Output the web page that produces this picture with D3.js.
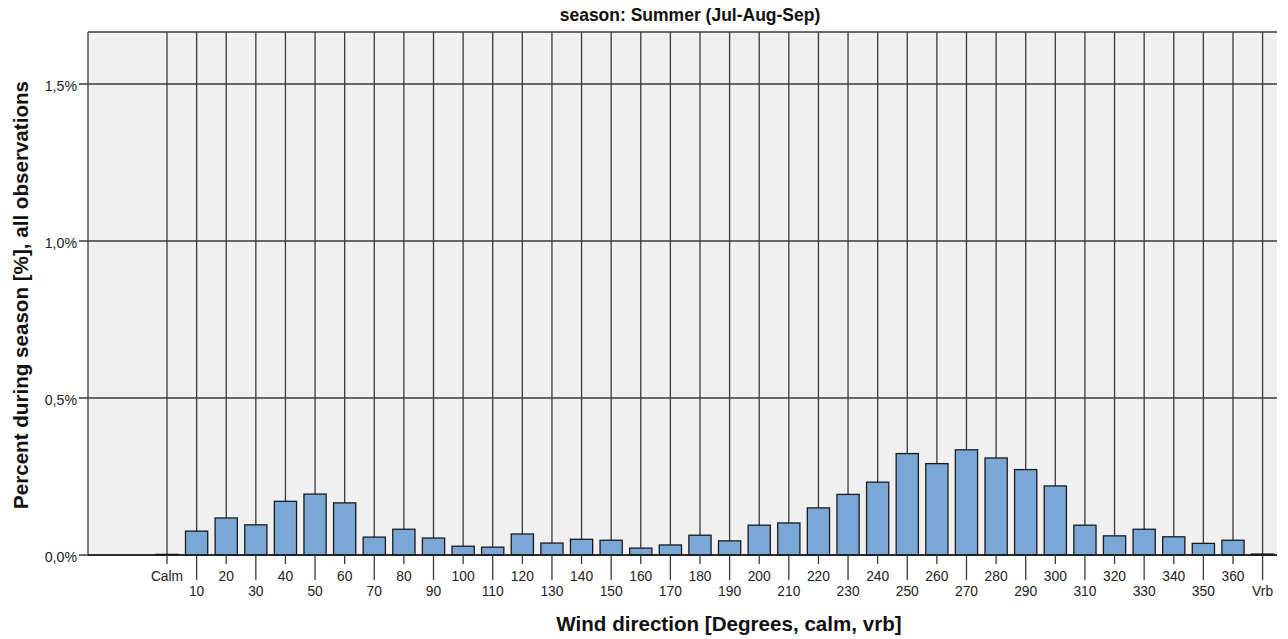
<!DOCTYPE html>
<html><head><meta charset="utf-8">
<script src="https://cdn.jsdelivr.net/npm/d3@7"></script>
<style>body{margin:0;background:#fff;} text{font-family:"Liberation Sans",Arial,sans-serif;}</style>
</head><body>
<svg id="c" width="1288" height="639"></svg>
<script>
const categories = ["Calm","10","20","30","40","50","60","70","80","90","100","110","120","130","140","150","160","170","180","190","200","210","220","230","240","250","260","270","280","290","300","310","320","330","340","350","360","Vrb"];
const values = [0.002,0.076,0.118,0.096,0.171,0.194,0.166,0.057,0.082,0.054,0.028,0.025,0.067,0.038,0.050,0.047,0.022,0.032,0.063,0.045,0.095,0.102,0.150,0.193,0.232,0.323,0.291,0.335,0.309,0.272,0.220,0.095,0.061,0.082,0.058,0.037,0.047,0.003];
const yTicks = [0, 0.5, 1.0, 1.5];
const yTickLabels = ["0,0%","0,5%","1,0%","1,5%"];
const title = "season: Summer (Jul-Aug-Sep)";
const xTitle = "Wind direction [Degrees, calm, vrb]";
const yTitle = "Percent during season [%], all observations";

const svg = d3.select("#c");
const plotL = 88, plotR = 1277, plotT = 32, plotB = 555;
const x = d3.scaleBand().domain(categories).range([152.2, 1277.4]).paddingInner(0.25).paddingOuter(0.125);
const y = d3.scaleLinear().domain([0, 1.6656]).range([plotB, plotT]);
const grid = "#3a3a3a";

svg.append("rect").attr("x", plotL).attr("y", plotT).attr("width", plotR - plotL).attr("height", plotB - plotT).attr("fill", "#f0f0f0");

// horizontal grid
svg.append("g").selectAll("line").data(yTicks).join("line")
  .attr("x1", plotL - 9).attr("x2", plotR).attr("y1", d => y(d)).attr("y2", d => y(d))
  .attr("stroke", grid).attr("stroke-width", 1.3);
// vertical grid
svg.append("g").selectAll("line").data(categories).join("line")
  .attr("x1", d => x(d) + x.bandwidth()/2).attr("x2", d => x(d) + x.bandwidth()/2)
  .attr("y1", plotT).attr("y2", plotB)
  .attr("stroke", grid).attr("stroke-width", 1.3);
// borders
svg.append("line").attr("x1", plotL).attr("x2", plotR).attr("y1", plotT).attr("y2", plotT).attr("stroke", grid).attr("stroke-width", 1.3);
svg.append("line").attr("x1", plotL).attr("x2", plotL).attr("y1", plotT).attr("y2", plotB).attr("stroke", grid).attr("stroke-width", 1.3);

// bars
svg.append("g").selectAll("rect").data(values).join("rect")
  .attr("x", (d, i) => x(categories[i]))
  .attr("width", x.bandwidth())
  .attr("y", d => y(d))
  .attr("height", d => y(0) - y(d))
  .attr("fill", "#79a8d6").attr("stroke", "#1a1a1a").attr("stroke-width", 1.3);

// baseline
svg.append("line").attr("x1", plotL).attr("x2", plotR).attr("y1", y(0)).attr("y2", y(0)).attr("stroke", "#1a1a1a").attr("stroke-width", 1.5);

// x ticks
svg.append("g").selectAll("line").data(categories).join("line")
  .attr("x1", d => x(d) + x.bandwidth()/2).attr("x2", d => x(d) + x.bandwidth()/2)
  .attr("y1", plotB).attr("y2", (d, i) => i % 2 === 0 ? plotB + 9 : plotB + 25)
  .attr("stroke", grid).attr("stroke-width", 1.3);
svg.append("g").selectAll("text").data(categories).join("text")
  .attr("x", d => x(d) + x.bandwidth()/2)
  .attr("y", (d, i) => i % 2 === 0 ? 581 : 596)
  .attr("text-anchor", "middle").attr("font-size", 13.8).attr("fill", "#222")
  .text(d => d);

// y tick labels
svg.append("g").selectAll("text").data(yTicks).join("text")
  .attr("x", 77).attr("y", d => y(d) + 7)
  .attr("text-anchor", "end").attr("font-size", 14.2).attr("fill", "#222")
  .text((d, i) => yTickLabels[i]);

// titles
svg.append("text").attr("x", 690).attr("y", 21).attr("text-anchor", "middle")
  .attr("font-size", 17.5).attr("font-weight", "bold").attr("fill", "#111").text(title);
svg.append("text").attr("x", 729).attr("y", 631).attr("text-anchor", "middle")
  .attr("font-size", 20.6).attr("font-weight", "bold").attr("fill", "#111").text(xTitle);
svg.append("text").attr("transform", "translate(28,295) rotate(-90)").attr("text-anchor", "middle")
  .attr("font-size", 20.6).attr("font-weight", "bold").attr("fill", "#111").text(yTitle);
</script>
</body></html>
